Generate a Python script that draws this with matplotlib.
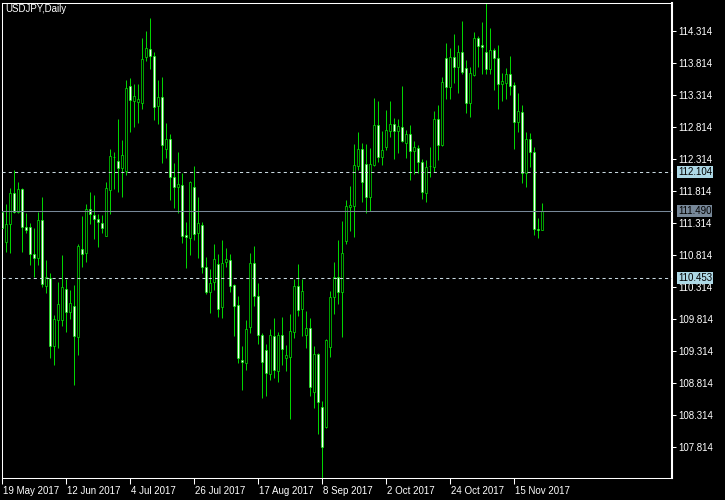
import numpy as np
import matplotlib
matplotlib.use('Agg')
import matplotlib.pyplot as plt
from matplotlib.patches import Rectangle
from matplotlib.transforms import ScaledTranslation, blended_transform_factory

symbol = 'USDJPY,Daily'

# daily OHLC, 19 May 2017 .. 24 Nov 2017
opens = [
    111.479, 111.015, 111.287, 111.771, 111.484, 111.834, 111.240, 111.240, 110.818, 110.765,
    111.354, 110.327, 110.443, 109.390, 109.792, 109.792, 110.271, 109.912, 110.015, 109.531,
    110.896, 110.834, 111.521, 111.427, 111.365, 111.302, 111.109, 111.818, 112.334, 112.271,
    112.162, 112.115, 113.448, 113.213, 113.198, 113.177, 113.906, 114.021, 113.921, 113.140,
    113.271, 112.459, 112.615, 112.031, 111.874, 111.896, 111.115, 111.077, 111.865, 111.146,
    111.271, 110.620, 110.234, 110.381, 110.662, 109.999, 110.702, 110.724, 110.343, 110.021,
    109.167, 109.124, 109.677, 110.677, 110.171, 109.557, 109.323, 108.943, 109.542, 108.999,
    109.552, 109.193, 109.218, 109.609, 110.323, 109.968, 109.557, 109.662, 108.671, 109.256,
    108.427, 108.124, 109.365, 110.156, 110.468, 110.224, 111.026, 111.557, 111.573, 112.202,
    112.459, 112.224, 111.718, 112.213, 112.834, 112.334, 112.499, 112.749, 112.849, 112.749,
    112.812, 112.552, 112.693, 112.437, 112.474, 112.265, 111.781, 112.198, 112.187, 112.927,
    112.526, 113.881, 113.437, 113.896, 113.749, 113.974, 113.724, 113.177, 113.620, 114.193,
    114.084, 113.974, 113.709, 114.010, 113.881, 113.474, 113.490, 113.635, 113.459, 112.881,
    113.037, 112.093, 112.615, 112.421, 111.218, 111.198]
highs = [
    111.541, 111.604, 111.854, 112.135, 111.948, 111.854, 111.459, 111.302, 111.224, 111.479,
    111.713, 110.729, 110.521, 109.870, 110.390, 110.807, 110.432, 110.260, 110.338, 110.979,
    111.417, 111.599, 111.792, 111.745, 111.448, 111.427, 111.948, 112.463, 112.412, 112.932,
    112.604, 113.542, 113.573, 113.479, 113.479, 114.193, 114.307, 114.510, 113.984, 113.542,
    113.588, 112.865, 112.698, 112.240, 112.412, 112.084, 111.318, 111.968, 112.198, 111.709,
    111.318, 110.771, 110.584, 110.979, 110.818, 111.042, 110.917, 110.818, 110.354, 110.167,
    109.385, 109.792, 110.834, 110.948, 110.365, 109.593, 109.417, 109.646, 109.818, 109.599,
    109.834, 109.401, 109.885, 110.432, 110.667, 110.432, 109.932, 109.827, 109.390, 109.281,
    108.526, 109.495, 110.245, 110.702, 111.042, 111.338, 111.667, 111.885, 112.542, 112.729,
    112.552, 112.542, 112.474, 113.256, 113.213, 112.745, 113.073, 113.213, 112.952, 112.932,
    113.452, 112.760, 112.838, 112.588, 112.526, 112.302, 112.292, 112.490, 113.057, 113.151,
    113.584, 114.124, 114.037, 114.260, 114.088, 114.463, 113.854, 113.740, 114.287, 114.229,
    114.443, 114.749, 114.349, 114.037, 114.088, 113.646, 113.724, 113.917, 113.506, 113.334,
    113.151, 112.724, 112.709, 112.499, 111.381, 111.615]
lows = [
    111.166, 110.859, 110.843, 111.468, 111.468, 110.859, 111.156, 110.656, 110.459, 110.656,
    110.312, 110.218, 109.202, 109.088, 109.359, 109.698, 109.609, 109.807, 108.776, 109.245,
    110.624, 110.698, 111.292, 111.057, 110.937, 111.146, 111.109, 111.452, 111.834, 111.796,
    111.718, 112.057, 112.734, 112.812, 112.874, 113.088, 113.843, 113.713, 112.917, 112.854,
    112.249, 112.327, 111.667, 111.542, 111.468, 110.999, 110.609, 110.807, 111.042, 110.765,
    110.531, 110.198, 109.906, 110.260, 109.843, 109.827, 110.615, 110.234, 109.546, 109.124,
    108.698, 109.010, 109.584, 110.010, 109.417, 108.577, 108.604, 108.854, 108.890, 108.827,
    109.088, 108.999, 108.245, 109.515, 109.854, 109.546, 109.359, 108.609, 108.421, 108.010,
    107.292, 108.109, 109.218, 109.885, 110.042, 109.531, 110.979, 111.182, 111.093, 112.135,
    111.640, 111.468, 111.495, 112.198, 112.256, 112.213, 112.448, 112.656, 112.307, 112.396,
    112.577, 112.327, 111.979, 112.073, 112.084, 111.682, 111.640, 112.031, 112.109, 112.292,
    112.510, 113.245, 113.245, 113.490, 113.343, 113.635, 113.031, 112.959, 113.604, 113.740,
    113.635, 113.635, 113.635, 113.385, 113.088, 113.218, 113.245, 113.307, 112.463, 112.734,
    111.937, 111.874, 112.187, 111.120, 111.068, 111.198]
closes = [
    111.229, 111.292, 111.771, 111.484, 111.834, 111.249, 111.202, 110.818, 110.765, 111.354,
    110.349, 110.468, 109.390, 109.807, 110.042, 110.302, 109.921, 110.052, 109.546, 110.948,
    110.818, 111.521, 111.443, 111.365, 111.318, 111.224, 111.849, 112.349, 112.331, 112.162,
    112.365, 113.417, 113.229, 113.292, 113.240, 113.865, 114.037, 113.921, 113.124, 113.271,
    112.531, 112.615, 112.031, 111.874, 111.917, 111.109, 111.093, 111.948, 111.131, 111.302,
    110.624, 110.234, 110.365, 110.740, 109.968, 110.677, 110.740, 110.327, 110.015, 109.202,
    109.140, 109.646, 110.677, 110.171, 109.557, 109.131, 108.968, 109.552, 109.010, 109.552,
    109.334, 109.240, 109.620, 110.323, 109.948, 110.245, 109.662, 108.749, 109.256, 108.515,
    107.812, 109.479, 110.156, 110.468, 110.224, 110.834, 111.573, 111.584, 112.209, 112.459,
    111.952, 111.718, 112.224, 112.834, 112.334, 112.448, 112.760, 112.849, 112.749, 112.823,
    112.593, 112.698, 112.437, 112.490, 112.265, 111.796, 112.187, 112.205, 112.927, 112.526,
    113.506, 113.437, 113.896, 113.749, 113.974, 113.671, 113.177, 113.646, 114.193, 114.077,
    114.052, 113.709, 114.010, 113.881, 113.474, 113.526, 113.635, 113.448, 112.881, 113.057,
    112.084, 112.615, 112.421, 111.209, 111.198, 111.490]

date_labels = ['19 May 2017', '12 Jun 2017', '4 Jul 2017', '26 Jul 2017', '17 Aug 2017',
               '8 Sep 2017', '2 Oct 2017', '24 Oct 2017', '15 Nov 2017']
bars_per_label = 16
price_ticks = [107.814, 108.314, 108.814, 109.314, 109.814, 110.314, 110.814,
               111.314, 111.814, 112.314, 112.814, 113.314, 113.814, 114.314]
level_prices = [112.104, 110.453]

plt.rcParams['font.family'] = ['Liberation Sans', 'DejaVu Sans']
plt.rcParams['font.size'] = 7

fig = plt.figure(figsize=(7.25, 5), dpi=100, facecolor='black')
ax = fig.add_axes([2 / 725, 22 / 500, 670 / 725, 475 / 500])
ax.set_facecolor('black')

green = '#00ff00'
o = np.array(opens)
h = np.array(highs)
l = np.array(lows)
c = np.array(closes)
idx = np.arange(len(c))

ax.vlines(idx, l, h, color=green, lw=0.6, zorder=2)
for i in idx:
    bottom = min(o[i], c[i])
    height = max(abs(c[i] - o[i]), 0.002)
    face = 'white' if c[i] < o[i] else 'black'
    ax.add_patch(Rectangle((i - 0.3, bottom), 0.6, height, facecolor=face,
                           edgecolor=green, lw=0.45, zorder=3))

# horizontal levels
for p in level_prices:
    ax.axhline(p, color='#c8d8e0', lw=0.75, ls=(0, (3, 3)), zorder=4)
ax.axhline(closes[-1], color='#778899', lw=0.75, zorder=4)

trans = blended_transform_factory(ax.transAxes, ax.transData)
for p in level_prices:
    ax.text(1 + 6 / 670, p, f'{p:.3f}', transform=trans, ha='left', va='center',
            color='black', fontsize=7, clip_on=False, zorder=6,
            bbox=dict(boxstyle='square,pad=0.1', fc='#add8e6', ec='none'))
ax.text(1 + 6 / 670, closes[-1], f'{closes[-1]:.3f}', transform=trans, ha='left',
        va='center', color='black', fontsize=7, clip_on=False, zorder=6,
        bbox=dict(boxstyle='square,pad=0.1', fc='#778899', ec='none'))

ax.set_xlim(0, 167.5)
ax.set_ylim(107.323, 114.745)

for s in ax.spines.values():
    s.set_color('white')
    s.set_linewidth(0.75)
ax.spines['right'].set_linewidth(1.5)

ax.yaxis.tick_right()
ax.set_yticks(price_ticks)
ax.set_yticklabels([f'{t:.3f}' for t in price_ticks])
ax.tick_params(axis='y', colors='white', length=3, width=0.75, pad=1.5, labelsize=7)

ax.set_xticks(np.arange(len(date_labels)) * bars_per_label)
ax.set_xticklabels(date_labels)
ax.tick_params(axis='x', colors='white', length=4, width=0.75, pad=1.5, labelsize=7)
shift = ScaledTranslation(1 / 100, 0, fig.dpi_scale_trans)
for lab in ax.get_xticklabels():
    lab.set_horizontalalignment('left')
    lab.set_transform(lab.get_transform() + shift)

fig.text(5 / 725, 1 - 4 / 500, symbol, color='white', fontsize=7, ha='left', va='top')

fig.savefig('out.png', dpi=100, facecolor='black')
